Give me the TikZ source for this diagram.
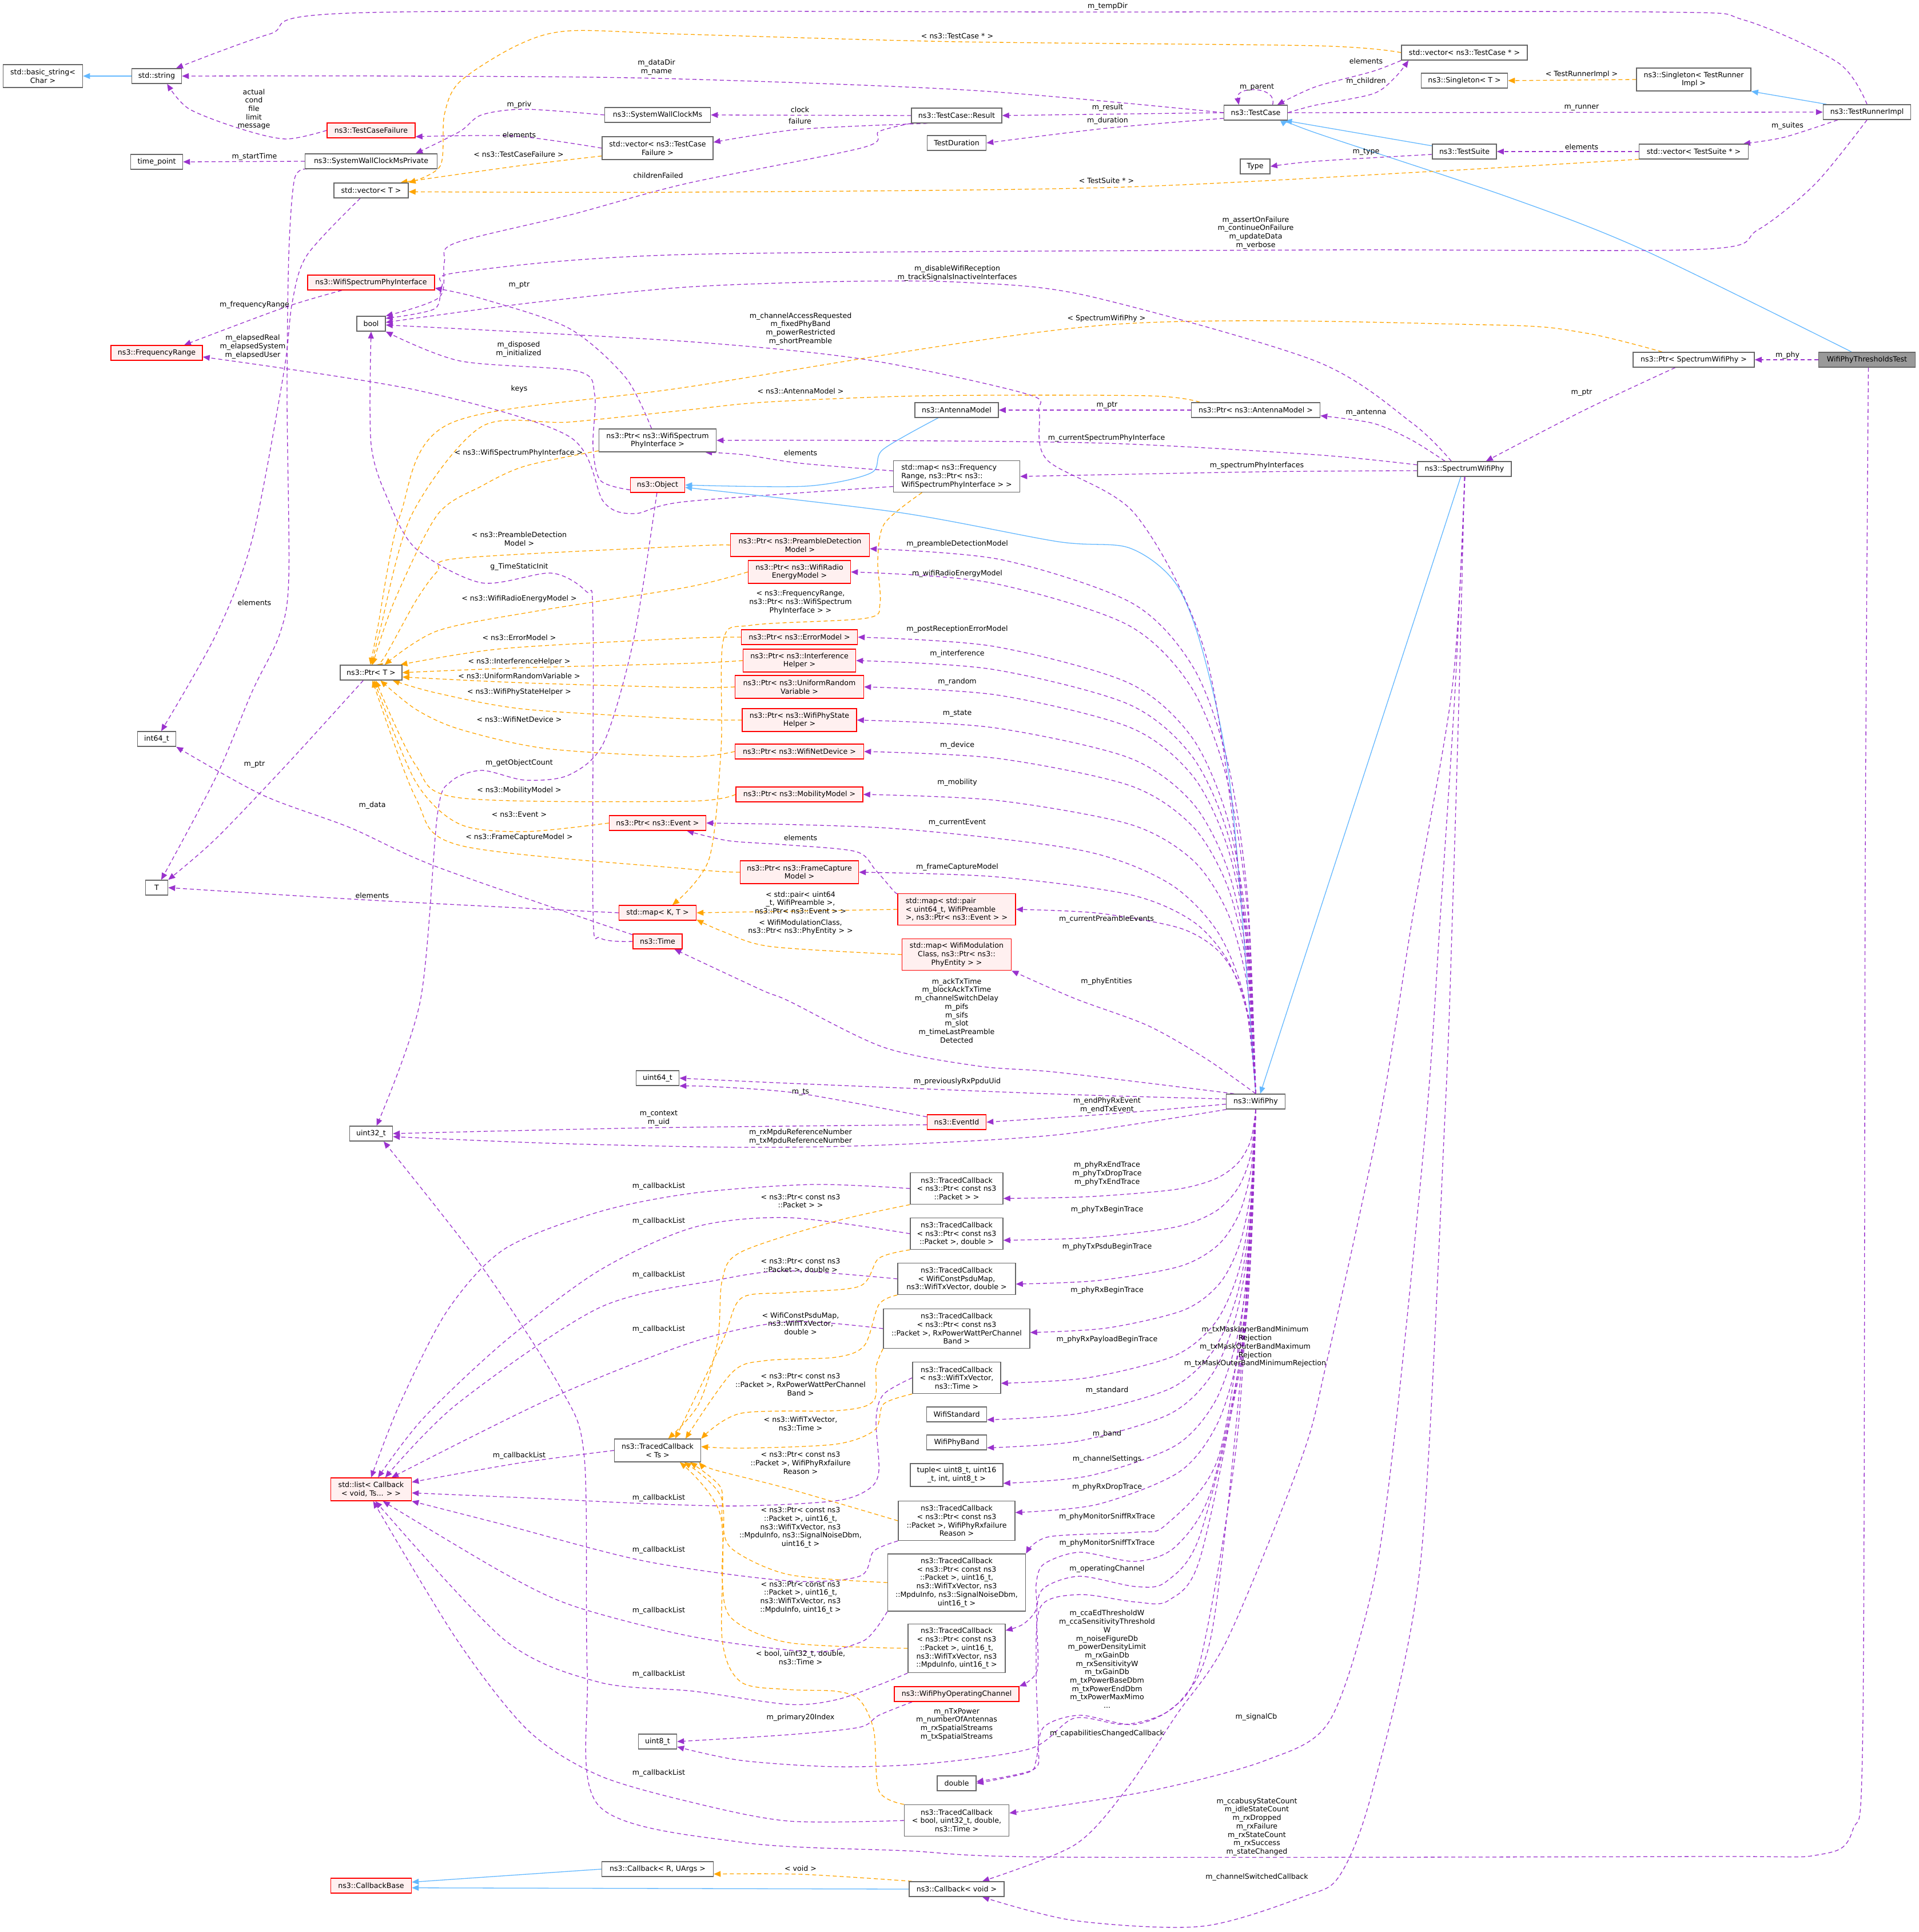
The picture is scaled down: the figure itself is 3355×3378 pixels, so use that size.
\documentclass[tikz,border=0pt]{standalone}
\usepackage{fontspec}
\setmainfont{DejaVu Sans}
\usetikzlibrary{arrows.meta,calc}
\pgfdeclarelayer{bg}
\pgfsetlayers{bg,main}
\definecolor{purp}{HTML}{9A32CD}
\definecolor{orng}{HTML}{FFA500}
\definecolor{blu}{HTML}{63B8FF}
\definecolor{gbord}{HTML}{666666}
\definecolor{rbord}{HTML}{FF0000}
\definecolor{pinkf}{HTML}{FFF0F0}
\definecolor{grayf}{HTML}{999999}
\newcommand\dgf{\fontsize{12.6}{14.7}\selectfont}
\tikzset{
 cls/.style={draw=gbord,fill=white,line width=1.5pt,inner sep=0pt,align=center,font=\dgf,minimum height=26pt},
 rcls/.style={cls,draw=rbord,fill=pinkf},
 h2/.style={minimum height=40pt},
 h3/.style={minimum height=55pt},
 h4/.style={minimum height=69pt},
 h5/.style={minimum height=85pt},
 h6/.style={minimum height=100pt},
 lbl/.style={inner sep=0pt,align=center,font=\dgf},
 pe/.style={draw=purp,line width=1.3pt,dash pattern=on 7pt off 5pt,-{Triangle[length=12pt,width=10pt]}},
 oe/.style={pe,draw=orng},
 be/.style={draw=blu,line width=1.3pt,-{Triangle[length=12pt,width=10pt]}},
}
\newcommand\pth[2]{\draw[#1] plot[smooth,tension=0.5] coordinates {#2};}
\newcommand\fanE[2]{\draw[pe] let \p1=(#1),\p2=(#2) in plot[smooth,tension=0.5] coordinates {(\p1) ({\x2+0.98*(\x1-\x2)},{\y2+0.65*(\y1-\y2)}) ({\x2+0.93*(\x1-\x2)},{\y2+0.4*(\y1-\y2)}) ({\x2+0.84*(\x1-\x2)},{\y2+0.22*(\y1-\y2)}) ({\x2+0.68*(\x1-\x2)},{\y2+0.1*(\y1-\y2)}) ({\x2+0.34*(\x1-\x2)},{\y2+0.02*(\y1-\y2)}) (\p2)};}
\begin{document}
\begin{tikzpicture}[x=1pt,y=-1pt]
\useasboundingbox (0,0) rectangle (3355,3378);
% ---------------- nodes
\node[cls,minimum width=139pt,h2] (bs) at (75,133) {std::basic\_string<\\Char >};
\node[cls,minimum width=87pt] (str) at (274,133) {std::string};
\node[rcls,minimum width=154pt] (tcf) at (649,228) {ns3::TestCaseFailure};
\node[cls,minimum width=91pt] (tp) at (274,283) {time\_point};
\node[cls,minimum width=231pt] (swcp) at (649,282) {ns3::SystemWallClockMsPrivate};
\node[cls,minimum width=130pt] (vT) at (649,333) {std::vector< T >};
\node[rcls,minimum width=222pt] (wspi) at (649,494) {ns3::WifiSpectrumPhyInterface};
\node[cls,minimum width=50pt] (bool) at (649,566) {bool};
\node[rcls,minimum width=160pt] (fr) at (274,617) {ns3::FrequencyRange};
\node[cls,minimum width=185pt] (swcm) at (1150,201) {ns3::SystemWallClockMs};
\node[cls,minimum width=194pt,h2] (vtcf) at (1150,259) {std::vector< ns3::TestCase\\Failure >};
\node[cls,minimum width=205pt,h2] (pwspi) at (1150,770) {ns3::Ptr< ns3::WifiSpectrum\\PhyInterface >};
\node[rcls,minimum width=95pt] (obj) at (1150,848) {ns3::Object};
\node[cls,minimum width=158pt] (res) at (1673,202) {ns3::TestCase::Result};
\node[cls,minimum width=103pt] (td) at (1673,250) {TestDuration};
\node[cls,minimum width=146pt] (am) at (1673,717) {ns3::AntennaModel};
\node[cls,minimum width=221pt,h3,align=left] (mapfr) at (1673,833) {std::map< ns3::Frequency\\Range, ns3::Ptr< ns3::\\WifiSpectrumPhyInterface > >};
\node[cls,minimum width=111pt] (tc) at (2196,197) {ns3::TestCase};
\node[cls,minimum width=52pt] (type) at (2195,291) {Type};
\node[cls,minimum width=225pt] (pam) at (2196,717) {ns3::Ptr< ns3::AntennaModel >};
\node[cls,minimum width=220pt] (vtc) at (2561,92) {std::vector< ns3::TestCase * >};
\node[cls,minimum width=151pt] (sgT) at (2561,141) {ns3::Singleton< T >};
\node[cls,minimum width=112pt] (ts) at (2561,265) {ns3::TestSuite};
\node[cls,minimum width=164pt] (swp) at (2561,820) {ns3::SpectrumWifiPhy};
\node[cls,minimum width=200pt,h2] (sgR) at (2962,139) {ns3::Singleton< TestRunner\\Impl >};
\node[cls,minimum width=191pt] (vts) at (2962,265) {std::vector< TestSuite * >};
\node[cls,minimum width=212pt] (pswp) at (2962,629) {ns3::Ptr< SpectrumWifiPhy >};
\node[cls,minimum width=153pt] (tri) at (3265,196) {ns3::TestRunnerImpl};
\node[cls,fill=grayf,minimum width=169pt] (wptt) at (3265,629) {WifiPhyThresholdsTest};
\node[cls,minimum width=108pt] (pT) at (649,1176) {ns3::Ptr< T >};
\node[cls,minimum width=67pt] (i64) at (274,1292) {int64\_t};
\node[cls,minimum width=39pt] (T) at (274,1552) {T};
\node[rcls,minimum width=243pt,h2] (ppdm) at (1399,953) {ns3::Ptr< ns3::PreambleDetection\\Model >};
\node[rcls,minimum width=179pt,h2] (pwrem) at (1398,1000) {ns3::Ptr< ns3::WifiRadio\\EnergyModel >};
\node[rcls,minimum width=203pt] (pem) at (1398,1114) {ns3::Ptr< ns3::ErrorModel >};
\node[rcls,minimum width=197pt,h2] (pih) at (1398,1155) {ns3::Ptr< ns3::Interference\\Helper >};
\node[rcls,minimum width=225pt,h2] (purv) at (1398,1201) {ns3::Ptr< ns3::UniformRandom\\Variable >};
\node[rcls,minimum width=200pt,h2] (pwpsh) at (1398,1259) {ns3::Ptr< ns3::WifiPhyState\\Helper >};
\node[rcls,minimum width=225pt] (pwnd) at (1398,1314) {ns3::Ptr< ns3::WifiNetDevice >};
\node[rcls,minimum width=222pt] (pmm) at (1398,1389) {ns3::Ptr< ns3::MobilityModel >};
\node[rcls,minimum width=169pt] (pev) at (1150,1439) {ns3::Ptr< ns3::Event >};
\node[rcls,minimum width=207pt,h2] (pfcm) at (1398,1525) {ns3::Ptr< ns3::FrameCapture\\Model >};
\node[rcls,minimum width=135pt] (mapKT) at (1150,1596) {std::map< K, T >};
\node[rcls,minimum width=86pt] (time) at (1150,1646) {ns3::Time};
\node[rcls,minimum width=206pt,h3,align=left] (mappair) at (1673,1590) {std::map< std::pair\\< uint64\_t, WifiPreamble\\>, ns3::Ptr< ns3::Event > >};
\node[rcls,minimum width=191pt,h3] (mapwmc) at (1673,1669) {std::map< WifiModulation\\Class, ns3::Ptr< ns3::\\PhyEntity > >};
\node[cls,minimum width=75pt] (u64) at (1150,1885) {uint64\_t};
\node[rcls,minimum width=103pt] (eid) at (1673,1962) {ns3::EventId};
\node[cls,minimum width=75pt] (u32) at (649,1982) {uint32\_t};
\node[cls,minimum width=103pt] (wp) at (2196,1926) {ns3::WifiPhy};
\node[cls,minimum width=162pt,h3] (tc1) at (1673,2078) {ns3::TracedCallback\\< ns3::Ptr< const ns3\\::Packet > >};
\node[cls,minimum width=162pt,h3] (tc2) at (1673,2157) {ns3::TracedCallback\\< ns3::Ptr< const ns3\\::Packet >, double >};
\node[cls,minimum width=206pt,h3] (tc3) at (1673,2236) {ns3::TracedCallback\\< WifiConstPsduMap,\\ns3::WifiTxVector, double >};
\node[cls,minimum width=256pt,h4] (tc4) at (1673,2323) {ns3::TracedCallback\\< ns3::Ptr< const ns3\\::Packet >, RxPowerWattPerChannel\\Band >};
\node[cls,minimum width=154pt,h3] (tc5) at (1673,2409) {ns3::TracedCallback\\< ns3::WifiTxVector,\\ns3::Time >};
\node[cls,minimum width=105pt] (ws) at (1673,2473) {WifiStandard};
\node[cls,minimum width=151pt,h2] (tcts) at (1150,2536) {ns3::TracedCallback\\< Ts >};
\node[cls,minimum width=105pt] (wpb) at (1673,2522) {WifiPhyBand};
\node[cls,minimum width=162pt,h2] (tup) at (1673,2579) {tuple< uint8\_t, uint16\\\_t, int, uint8\_t >};
\node[rcls,minimum width=141pt,h2] (list) at (649,2604) {std::list< Callback\\< void, Ts... > >};
\node[cls,minimum width=204pt,h4] (tc6) at (1673,2659) {ns3::TracedCallback\\< ns3::Ptr< const ns3\\::Packet >, WifiPhyRxfailure\\Reason >};
\node[cls,minimum width=241pt,h6] (tc7) at (1673,2767) {ns3::TracedCallback\\< ns3::Ptr< const ns3\\::Packet >, uint16\_t,\\ns3::WifiTxVector, ns3\\::MpduInfo, ns3::SignalNoiseDbm,\\uint16\_t >};
\node[cls,minimum width=170pt,h5] (tc8) at (1673,2882) {ns3::TracedCallback\\< ns3::Ptr< const ns3\\::Packet >, uint16\_t,\\ns3::WifiTxVector, ns3\\::MpduInfo, uint16\_t >};
\node[rcls,minimum width=218pt] (woc) at (1673,2962) {ns3::WifiPhyOperatingChannel};
\node[cls,minimum width=67pt] (u8) at (1150,3045) {uint8\_t};
\node[cls,minimum width=68pt] (dbl) at (1673,3118) {double};
\node[cls,minimum width=183pt,h3] (tc9) at (1673,3183) {ns3::TracedCallback\\< bool, uint32\_t, double,\\ns3::Time >};
\node[cls,minimum width=195pt] (cbR) at (1150,3268) {ns3::Callback< R, UArgs >};
\node[rcls,minimum width=141pt] (cbb) at (649,3297) {ns3::CallbackBase};
\node[cls,minimum width=166pt] (cbv) at (1673,3303) {ns3::Callback< void >};
% ---------------- labels
\node[lbl] (l1) at (1937,11) {m\_tempDir};
\node[lbl] (l2) at (1674,63) {< ns3::TestCase * >};
\node[lbl] (l3) at (1148,118) {m\_dataDir\\m\_name};
\node[lbl] (l4) at (444,191) {actual\\cond\\file\\limit\\message};
\node[lbl] (l5) at (908,183) {m\_priv};
\node[lbl] (l6) at (908,236) {elements};
\node[lbl] (l7) at (907,270) {< ns3::TestCaseFailure >};
\node[lbl] (l8) at (445,274) {m\_startTime};
\node[lbl] (l9) at (1151,307) {childrenFailed};
\node[lbl] (l10) at (1399,192) {clock};
\node[lbl] (l11) at (1399,212) {failure};
\node[lbl] (l12) at (2198,153) {m\_parent};
\node[lbl] (l13) at (1937,188) {m\_result};
\node[lbl] (l14) at (1937,211) {m\_duration};
\node[lbl] (l15) at (1935,316) {< TestSuite * >};
\node[lbl] (l16) at (2196,407) {m\_assertOnFailure\\m\_continueOnFailure\\m\_updateData\\m\_verbose};
\node[lbl] (l17) at (1674,478) {m\_disableWifiReception\\m\_trackSignalsInactiveInterfaces};
\node[lbl] (l18) at (1400,575) {m\_channelAccessRequested\\m\_fixedPhyBand\\m\_powerRestricted\\m\_shortPreamble};
\node[lbl] (l19) at (1935,557) {< SpectrumWifiPhy >};
\node[lbl] (l20) at (1400,684) {< ns3::AntennaModel >};
\node[lbl] (l21) at (1936,709) {m\_ptr};
\node[lbl] (l22) at (1935,766) {m\_currentSpectrumPhyInterface};
\node[lbl] (l23) at (1400,792) {elements};
\node[lbl] (l24) at (2198,814) {m\_spectrumPhyInterfaces};
\node[lbl] (l25) at (2389,107) {elements};
\node[lbl] (l26) at (2389,142) {m\_children};
\node[lbl] (l27) at (2766,130) {< TestRunnerImpl >};
\node[lbl] (l28) at (2766,188) {m\_runner};
\node[lbl] (l29) at (3126,220) {m\_suites};
\node[lbl] (l30) at (2389,266) {m\_type};
\node[lbl] (l31) at (2766,257) {elements};
\node[lbl] (l32) at (3126,621) {m\_phy};
\node[lbl] (l33) at (2766,687) {m\_ptr};
\node[lbl] (l34) at (2389,722) {m\_antenna};
\node[lbl] (l35) at (445,533) {m\_frequencyRange};
\node[lbl] (l36) at (908,499) {m\_ptr};
\node[lbl] (l37) at (442,606) {m\_elapsedReal\\m\_elapsedSystem\\m\_elapsedUser};
\node[lbl] (l38) at (907,611) {m\_disposed\\m\_initialized};
\node[lbl] (l39) at (908,680) {keys};
\node[lbl] (l40) at (907,792) {< ns3::WifiSpectrumPhyInterface >};
\node[lbl] (l41) at (445,1054) {elements};
\node[lbl] (l42) at (445,1337) {m\_ptr};
\node[lbl] (l43) at (651,1408) {m\_data};
\node[lbl] (l44) at (651,1566) {elements};
\node[lbl] (l45) at (908,942) {< ns3::PreambleDetection\\Model >};
\node[lbl] (l46) at (908,991) {g\_TimeStaticInit};
\node[lbl] (l47) at (908,1047) {< ns3::WifiRadioEnergyModel >};
\node[lbl] (l48) at (908,1115) {< ns3::ErrorModel >};
\node[lbl] (l49) at (908,1157) {< ns3::InterferenceHelper >};
\node[lbl] (l50) at (908,1182) {< ns3::UniformRandomVariable >};
\node[lbl] (l51) at (908,1210) {< ns3::WifiPhyStateHelper >};
\node[lbl] (l52) at (908,1258) {< ns3::WifiNetDevice >};
\node[lbl] (l53) at (908,1334) {m\_getObjectCount};
\node[lbl] (l54) at (908,1382) {< ns3::MobilityModel >};
\node[lbl] (l55) at (908,1424) {< ns3::Event >};
\node[lbl] (l56) at (908,1464) {< ns3::FrameCaptureModel >};
\node[lbl] (l57) at (1400,1053) {< ns3::FrequencyRange,\\ns3::Ptr< ns3::WifiSpectrum\\PhyInterface > >};
\node[lbl] (l58) at (1674,951) {m\_preambleDetectionModel};
\node[lbl] (l59) at (1674,1003) {m\_wifiRadioEnergyModel};
\node[lbl] (l60) at (1674,1100) {m\_postReceptionErrorModel};
\node[lbl] (l61) at (1674,1143) {m\_interference};
\node[lbl] (l62) at (1674,1192) {m\_random};
\node[lbl] (l63) at (1674,1248) {m\_state};
\node[lbl] (l64) at (1674,1303) {m\_device};
\node[lbl] (l65) at (1674,1368) {m\_mobility};
\node[lbl] (l66) at (1674,1438) {m\_currentEvent};
\node[lbl] (l67) at (1674,1516) {m\_frameCaptureModel};
\node[lbl] (l68) at (1935,1607) {m\_currentPreambleEvents};
\node[lbl] (l69) at (1935,1716) {m\_phyEntities};
\node[lbl] (l70) at (1400,1465) {elements};
\node[lbl] (l71) at (1400,1578) {< std::pair< uint64\\\_t, WifiPreamble >,\\ns3::Ptr< ns3::Event > >};
\node[lbl] (l72) at (1400,1621) {< WifiModulationClass,\\ns3::Ptr< ns3::PhyEntity > >};
\node[lbl] (l73) at (1673,1767) {m\_ackTxTime\\m\_blockAckTxTime\\m\_channelSwitchDelay\\m\_pifs\\m\_sifs\\m\_slot\\m\_timeLastPreamble\\Detected};
\node[lbl] (l74) at (1674,1891) {m\_previouslyRxPpduUid};
\node[lbl] (l75) at (1400,1910) {m\_ts};
\node[lbl] (l76) at (1152,1955) {m\_context\\m\_uid};
\node[lbl] (l77) at (1400,1988) {m\_rxMpduReferenceNumber\\m\_txMpduReferenceNumber};
\node[lbl] (l78) at (1936,1933) {m\_endPhyRxEvent\\m\_endTxEvent};
\node[lbl] (l79) at (1936,2052) {m\_phyRxEndTrace\\m\_phyTxDropTrace\\m\_phyTxEndTrace};
\node[lbl] (l80) at (1936,2115) {m\_phyTxBeginTrace};
\node[lbl] (l81) at (1936,2180) {m\_phyTxPsduBeginTrace};
\node[lbl] (l82) at (1936,2256) {m\_phyRxBeginTrace};
\node[lbl] (l83) at (1936,2342) {m\_phyRxPayloadBeginTrace};
\node[lbl] (l84) at (1936,2431) {m\_standard};
\node[lbl] (l85) at (1936,2507) {m\_band};
\node[lbl] (l86) at (1936,2551) {m\_channelSettings};
\node[lbl] (l87) at (1936,2600) {m\_phyRxDropTrace};
\node[lbl] (l88) at (1936,2652) {m\_phyMonitorSniffRxTrace};
\node[lbl] (l89) at (1936,2698) {m\_phyMonitorSniffTxTrace};
\node[lbl] (l90) at (1936,2743) {m\_operatingChannel};
\node[lbl] (l91) at (1936,2901) {m\_ccaEdThresholdW\\m\_ccaSensitivityThreshold\\W\\m\_noiseFigureDb\\m\_powerDensityLimit\\m\_rxGainDb\\m\_rxSensitivityW\\m\_txGainDb\\m\_txPowerBaseDbm\\m\_txPowerEndDbm\\m\_txPowerMaxMimo\\...};
\node[lbl] (l92) at (1936,3031) {m\_capabilitiesChangedCallback};
\node[lbl] (l93) at (2195,2355) {m\_txMaskInnerBandMinimum\\Rejection\\m\_txMaskOuterBandMaximum\\Rejection\\m\_txMaskOuterBandMinimumRejection};
\node[lbl] (l94) at (2197,3002) {m\_signalCb};
\node[lbl] (l95) at (2198,3194) {m\_ccabusyStateCount\\m\_idleStateCount\\m\_rxDropped\\m\_rxFailure\\m\_rxStateCount\\m\_rxSuccess\\m\_stateChanged};
\node[lbl] (l96) at (2198,3282) {m\_channelSwitchedCallback};
\node[lbl] (l97) at (1400,3003) {m\_primary20Index};
\node[lbl] (l98) at (1673,3015) {m\_nTxPower\\m\_numberOfAntennas\\m\_rxSpatialStreams\\m\_txSpatialStreams};
\node[lbl] (l99) at (1400,3267) {< void >};
\node[lbl] (l100) at (1152,2074) {m\_callbackList};
\node[lbl] (l101) at (1152,2135) {m\_callbackList};
\node[lbl] (l102) at (1152,2229) {m\_callbackList};
\node[lbl] (l103) at (1152,2324) {m\_callbackList};
\node[lbl] (l104) at (908,2545) {m\_callbackList};
\node[lbl] (l105) at (1152,2619) {m\_callbackList};
\node[lbl] (l106) at (1152,2710) {m\_callbackList};
\node[lbl] (l107) at (1152,2816) {m\_callbackList};
\node[lbl] (l108) at (1152,2927) {m\_callbackList};
\node[lbl] (l109) at (1152,3100) {m\_callbackList};
\node[lbl] (l110) at (1400,2100) {< ns3::Ptr< const ns3\\::Packet > >};
\node[lbl] (l111) at (1400,2213) {< ns3::Ptr< const ns3\\::Packet >, double >};
\node[lbl] (l112) at (1400,2314) {< WifiConstPsduMap,\\ns3::WifiTxVector,\\double >};
\node[lbl] (l113) at (1400,2421) {< ns3::Ptr< const ns3\\::Packet >, RxPowerWattPerChannel\\Band >};
\node[lbl] (l114) at (1400,2489) {< ns3::WifiTxVector,\\ns3::Time >};
\node[lbl] (l115) at (1400,2558) {< ns3::Ptr< const ns3\\::Packet >, WifiPhyRxfailure\\Reason >};
\node[lbl] (l116) at (1400,2671) {< ns3::Ptr< const ns3\\::Packet >, uint16\_t,\\ns3::WifiTxVector, ns3\\::MpduInfo, ns3::SignalNoiseDbm,\\uint16\_t >};
\node[lbl] (l117) at (1400,2793) {< ns3::Ptr< const ns3\\::Packet >, uint16\_t,\\ns3::WifiTxVector, ns3\\::MpduInfo, uint16\_t >};
\node[lbl] (l118) at (1400,2898) {< bool, uint32\_t, double,\\ns3::Time >};
% ---------------- edges
\begin{pgfonlayer}{bg}
\fill[white] (0,0) rectangle (3355,3378);
% top area
\draw[be] (str.west) -- (bs.east);
\pth{pe}{(tri.north) (3215,110) (3050,35) (2900,21) (1937,21) (640,22) (470,60) (str.22)}
\pth{oe}{(vtc.west) (2300,80) (1674,73) (1200,60) (995,54) (903,80) (804,143) (777,201) (770,290) (vT.north east)}
\pth{pe}{(tc.west) (1700,158) (1148,137) (700,133) (str.east)}
\draw[pe] (tc.25) .. controls (2235,150) and (2160,150) .. (tc.155);
\pth{pe}{(vtc.south west) (2400,125) (2300,152) (tc.20)}
\pth{pe}{(tc.east) (2300,184) (2401,164) (2440,135) (vtc.188)}
\draw[pe] (tc.west) -- (res.east);
\pth{pe}{(tc.190) (1937,224) (td.east)}
\draw[pe] (tc.east) -- (tri.west);
\draw[pe] (res.west) -- (swcm.east);
\pth{pe}{(res.195) (1399,226) (vtcf.6)}
\pth{pe}{(res.south west) (1537,230) (1509,258) (1200,321) (1000,375) (796,425) (777,459) (768,520) (bool.north east)}
\pth{pe}{(swcm.west) (918,191) (842,201) (804,230) (swcp.10)}
\pth{pe}{(vtcf.west) (900,238) (tcf.-8)}
\pth{oe}{(vtcf.188) (907,290) (vT.15)}
\pth{pe}{(tcf.west) (500,243) (420,225) (330,190) (str.-37)}
\draw[pe] (swcp.west) -- (tp.east);
\pth{pe}{(swcp.187) (515,313) (505,446) (502,695) (505,1010) (489,1109) (441,1209) (378,1358) (T.60)}
\pth{pe}{(vT.-144) (537,446) (511,529) (496,653) (441,943) (378,1109) (i64.60)}
\pth{pe}{(time.165) (765,1516) (612,1447) (459,1390) (i64.south east)}
\pth{pe}{(wspi.-165) (499,537) (fr.16)}
\pth{pe}{(pwspi.117) (1094,660) (995,574) (842,522) (wspi.-5)}
\pth{pe}{(mapfr.-171) (1199,877) (1110,898) (1056,878) (995,763) (728,682) (fr.-5)}
\pth{pe}{(obj.-170) (1050,840) (1037,780) (1040,690) (1010,649) (804,631) (bool.south east)}
\pth{pe}{(time.west) (1050,1640) (1037,1590) (1037,1080) (1025,1034) (964,1002) (842,1019) (728,960) (680,877) (649,777) (bool.south)}
\pth{pe}{(obj.-95) (1108,1119) (1056,1298) (995,1355) (918,1364) (842,1347) (788,1367) (765,1424) (735,1750) (u32.55)}
% inheritance
\pth{be}{(am.-157) (1544,786) (1523,827) (1410,850) (obj.east)}
\pth{be}{(wp.north) (2153,1387) (2105,1145) (2056,1020) (1975,958) (1850,947) (1572,896) (obj.-5)}
\draw[be] (swp.-115) -- (wp.60);
\draw[be] (ts.170) -- (tc.-15);
\pth{be}{(wptt.153) (2872,436) (2636,344) (2300,232) (tc.south east)}
\draw[be] (tri.169) -- (sgR.south east);
\pth{pe}{(ts.-175) (2300,282) (type.east)}
\draw[pe] (vts.west) -- (ts.east);
\pth{oe}{(vts.-172) (2500,300) (1935,328) (1200,336) (vT.-2)}
\pth{pe}{(tri.-165) (3120,240) (vts.9)}
\draw[oe] (sgR.west) -- (sgT.east);
\pth{pe}{(tri.south) (3175,321) (3074,402) (2973,436) (2300,437) (1200,445) (804,476) (773,500) (760,540) (bool.20)}
\pth{pe}{(swp.149) (2470,740) (2300,631) (1901,517) (1691,494) (1481,492) (1200,502) (941,528) (765,551) (bool.5)}
\pth{pe}{(wp.north) (2175,1600) (2110,1150) (1986,900) (1831,804) (1817,720) (1796,689) (1516,629) (1200,597) (bool.-5)}
% ptr<T> templates
\pth{oe}{(pswp.166) (2771,582) (2603,568) (1937,568) (1200,677) (788,740) (700,900) (660,1100) (pT.95)}
\pth{oe}{(pam.172) (2007,692) (1621,692) (1340,703) (1200,717) (995,738) (842,746) (720,900) (665,1100) (pT.85)}
\draw[pe] (pam.west) -- (am.east);
\pth{pe}{(swp.158) (2468,769) (2401,740) (pam.-5)}
\pth{pe}{(pswp.-157) (2771,717) (swp.20)}
\draw[pe] (wptt.west) -- (pswp.east);
\pth{pe}{(swp.175) (2300,795) (1935,775) (1500,770) (pwspi.east)}
\pth{pe}{(swp.-178) (2198,825) (mapfr.east)}
\pth{pe}{(mapfr.175) (1400,810) (1300,795) (pwspi.-14)}
\pth{oe}{(mapfr.-155) (1547,915) (1535,979) (1539,1055) (1514,1081) (1315,1093) (1265,1119) (1261,1310) (1240,1502) (mapKT.28)}
\pth{oe}{(pwspi.-170) (918,815) (842,850) (765,900) (690,1050) (pT.80)}
\pth{oe}{(ppdm.west) (1200,955) (804,976) (765,999) (727,1051) (673,1148) (pT.60)}
\pth{oe}{(pwrem.west) (1200,1027) (941,1068) (765,1103) (pT.30)}
\pth{oe}{(pem.west) (1200,1116) (880,1134) (pT.15)}
\pth{oe}{(pih.west) (1200,1160) (900,1168) (pT.east)}
\pth{oe}{(purv.west) (1200,1202) (918,1194) (pT.-8)}
\pth{oe}{(pwpsh.west) (1200,1257) (918,1240) (765,1212) (pT.-20)}
\pth{oe}{(pwnd.west) (1200,1323) (957,1309) (804,1275) (727,1240) (pT.-40)}
\pth{oe}{(pmm.west) (1200,1401) (804,1395) (727,1338) (pT.-60)}
\pth{oe}{(pev.west) (918,1454) (804,1441) (727,1367) (pT.-70)}
\pth{oe}{(pfcm.west) (1200,1519) (804,1478) (727,1395) (pT.-80)}
\pth{pe}{(pT.-135) (505,1333) (378,1466) (T.north east)}
\pth{pe}{(mapKT.west) (650,1574) (T.east)}
\pth{pe}{(mappair.north west) (1564,1559) (1531,1521) (1497,1489) (1373,1477) (1274,1470) (pev.-15)}
\draw[oe] (mappair.west) -- (mapKT.east);
\pth{oe}{(mapwmc.west) (1348,1655) (1265,1629) (mapKT.-10)}
% WifiPhy fan up
\fanE{wp.north}{ppdm.-3}
\fanE{wp.north}{pwrem.east}
\fanE{wp.north}{pem.east}
\fanE{wp.north}{pih.east}
\fanE{wp.north}{purv.east}
\fanE{wp.north}{pwpsh.east}
\fanE{wp.north}{pwnd.east}
\fanE{wp.north}{pmm.east}
\fanE{wp.north}{pev.east}
\fanE{wp.north}{pfcm.east}
\fanE{wp.north}{mappair.east}
\pth{pe}{(wp.north) (2109,1851) (2007,1793) (1880,1746) (mapwmc.south east)}
\pth{pe}{(wp.160) (1850,1875) (1711,1864) (1545,1831) (1379,1750) (1332,1731) (time.-25)}
\pth{pe}{(wp.175) (1850,1913) (1379,1894) (u64.east)}
\pth{pe}{(wp.-175) (1936,1948) (eid.east)}
\pth{pe}{(wp.-165) (1850,1984) (1545,2002) (1296,2006) (965,1999) (u32.-8)}
\pth{pe}{(eid.170) (1400,1912) (1250,1900) (u64.south east)}
\pth{pe}{(eid.-175) (1130,1972) (u32.east)}
% WifiPhy fan down
\fanE{wp.south}{tc1.-12}
\fanE{wp.south}{tc2.-8}
\fanE{wp.south}{tc3.-5}
\fanE{wp.south}{tc4.-3}
\fanE{wp.south}{tc5.-7}
\fanE{wp.south}{ws.-10}
\fanE{wp.south}{wpb.-10}
\fanE{wp.south}{tup.-10}
\fanE{wp.south}{tc6.8}
\pth{pe}{(wp.south) (2178,2250) (2130,2550) (2039,2666) (1986,2679) (1834,2687) (tc7.north east)}
\pth{pe}{(wp.south) (2180,2300) (2120,2600) (2057,2703) (1986,2730) (1888,2714) (1825,2735) (1812,2770) (1812,2814) (1789,2840) (tc8.20)}
\pth{pe}{(wp.south) (2175,2350) (2100,2680) (2040,2765) (1986,2774) (1888,2756) (1825,2777) (1813,2820) (1814,2920) (woc.north east)}
\pth{pe}{(wp.south) (2172,2350) (2100,2720) (2044,2798) (1986,2801) (1888,2788) (1820,2809) (1812,2920) (1816,3052) (1807,3094) (dbl.5)}
\pth{pe}{(wp.south) (2170,2400) (2120,2850) (2066,2972) (1986,3015) (1888,2999) (1825,3020) (1812,3078) (1798,3099) (dbl.east)}
\pth{pe}{(wp.south) (2165,2500) (2100,2900) (2048,2988) (1968,3015) (1879,3004) (1803,3057) (1628,3083) (1462,3089) (1296,3078) (u8.-15)}
% traced callbacks -> list
\pth{pe}{(tc1.west) (1420,2071) (1213,2086) (1047,2119) (882,2184) (782,2292) (699,2455) (list.north)}
\pth{pe}{(tc2.west) (1379,2129) (1213,2146) (1047,2222) (882,2346) (740,2480) (list.60)}
\pth{pe}{(tc3.west) (1379,2222) (1255,2238) (1047,2287) (799,2455) (list.40)}
\pth{pe}{(tc4.west) (1379,2311) (1213,2346) (965,2444) (list.30)}
\pth{pe}{(tcts.west) (908,2558) (list.10)}
\pth{pe}{(tc5.west) (1545,2438) (1532,2482) (1537,2571) (1520,2603) (1462,2624) (1296,2633) (1130,2629) (923,2619) (list.-5)}
\pth{pe}{(tc6.south west) (1528,2712) (1503,2756) (1379,2764) (1130,2730) (882,2666) (list.south east)}
\pth{pe}{(tc7.south west) (1530,2850) (1503,2872) (1420,2888) (1213,2862) (1006,2809) (882,2751) (list.-45)}
\pth{pe}{(tc8.south west) (1537,2946) (1462,2972) (1379,2980) (1213,2957) (1047,2941) (882,2867) (list.-70)}
\pth{pe}{(tc9.west) (1379,3184) (1213,3152) (1047,3104) (923,3025) (799,2867) (list.-80)}
% traced callbacks -> TracedCallback<Ts>
\pth{oe}{(tc1.south west) (1462,2135) (1296,2189) (1263,2238) (1255,2346) (1222,2455) (tcts.48)}
\pth{oe}{(tc2.south west) (1537,2200) (1503,2249) (1379,2260) (1296,2270) (1263,2346) (tcts.34)}
\pth{oe}{(tc3.south west) (1537,2281) (1512,2352) (1462,2373) (1338,2379) (1280,2400) (tcts.23)}
\pth{oe}{(tc4.south west) (1532,2390) (1528,2449) (1470,2466) (1296,2471) (tcts.15)}
\pth{oe}{(tc5.south west) (1545,2455) (1530,2500) (1462,2525) (1300,2532) (tcts.5)}
\pth{oe}{(tc6.west) (1379,2603) (1250,2570) (tcts.-16)}
\pth{oe}{(tc7.west) (1379,2753) (1280,2708) (1263,2656) (1260,2600) (tcts.-20)}
\pth{oe}{(tc8.west) (1379,2872) (1280,2830) (1263,2761) (1262,2620) (tcts.-24)}
\pth{oe}{(tc9.north west) (1537,3131) (1528,3025) (1503,2972) (1462,2957) (1379,2954) (1296,2941) (1263,2867) (1260,2650) (tcts.-28)}
% misc bottom
\pth{pe}{(woc.-170) (1537,2999) (1503,3020) (1379,3033) (u8.east)}
\draw[be] (cbR.west) -- (cbb.5);
\draw[be] (cbv.west) -- (cbb.-3);
\pth{oe}{(cbv.170) (1400,3277) (cbR.-5)}
\pth{pe}{(swp.-88) (2545,1200) (2519,1600) (2495,1950) (2440,2500) (2400,2777) (2325,3009) (2213,3078) (2012,3131) (tc9.8)}
\pth{pe}{(swp.-90) (2552,1200) (2540,1600) (2527,1950) (2484,2734) (2400,3131) (2343,3279) (2280,3316) (2102,3368) (1879,3358) (cbv.-17)}
\pth{pe}{(swp.-86) (2540,1200) (2471,1600) (2414,1950) (2320,2382) (2276,2550) (2146,2867) (2057,2999) (1968,3131) (1879,3226) (cbv.17)}
\pth{pe}{(wptt.-80) (3262,1500) (3258,3000) (3240,3200) (3180,3243) (2977,3246) (1850,3247) (1586,3236) (1296,3221) (1047,3157) (1027,2920) (1022,2550) (981,2428) (840,2211) (u32.-32)}
\end{pgfonlayer}
\end{tikzpicture}
\end{document}
